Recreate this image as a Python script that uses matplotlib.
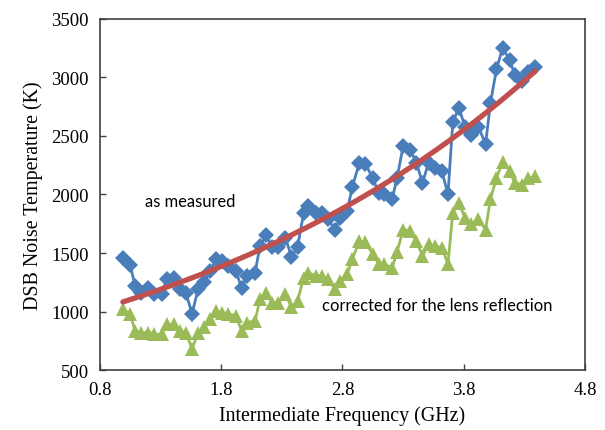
import numpy as np
import matplotlib
matplotlib.use("Agg")
import matplotlib.pyplot as plt

# IF frequency (GHz)
freq = [0.99, 1.05, 1.09, 1.14, 1.20, 1.25, 1.31, 1.35, 1.41, 1.46,
        1.51, 1.56, 1.61, 1.66, 1.71, 1.76, 1.81, 1.86, 1.92, 1.97,
        2.01, 2.08, 2.12, 2.17, 2.22, 2.27, 2.33, 2.38, 2.43, 2.48,
        2.52, 2.58, 2.63, 2.68, 2.74, 2.78, 2.84, 2.88, 2.94, 2.99,
        3.05, 3.10, 3.14, 3.21, 3.25, 3.30, 3.36, 3.41, 3.46, 3.51,
        3.56, 3.62, 3.67, 3.71, 3.76, 3.81, 3.86, 3.92, 3.98, 4.02,
        4.07, 4.12, 4.18, 4.22, 4.28, 4.33, 4.39]

# DSB noise temperature (K), as measured
t_measured = [1460, 1400, 1220, 1160, 1200, 1150, 1150, 1275, 1290, 1190,
              1160, 980, 1190, 1250, 1350, 1445, 1430, 1390, 1350, 1200,
              1300, 1330, 1560, 1650, 1550, 1550, 1630, 1470, 1550, 1840,
              1900, 1840, 1840, 1790, 1700, 1800, 1860, 2060, 2270, 2260,
              2140, 2010, 2000, 1960, 2140, 2410, 2380, 2270, 2100, 2270,
              2230, 2200, 2000, 2620, 2740, 2580, 2510, 2580, 2430, 2780,
              3070, 3250, 3150, 3020, 2970, 3050, 3090]

# corrected for the lens reflection
t_corrected = [1020, 980, 835, 820, 820, 805, 805, 890, 890, 835,
               820, 680, 820, 865, 935, 1005, 990, 980, 965, 835,
               905, 920, 1105, 1160, 1075, 1075, 1150, 1035, 1090, 1290,
               1330, 1305, 1305, 1275, 1190, 1260, 1320, 1445, 1600, 1590,
               1490, 1405, 1405, 1375, 1505, 1700, 1690, 1600, 1475, 1575,
               1560, 1545, 1405, 1845, 1930, 1800, 1745, 1790, 1700, 1960,
               2140, 2280, 2200, 2100, 2085, 2140, 2155]

x_ticks = [0.8, 1.8, 2.8, 3.8, 4.8]
y_ticks = [500, 1000, 1500, 2000, 2500, 3000, 3500]

# exponential trendline fitted to the measured data
x = np.array(freq)
coef = np.polyfit(x, np.log(t_measured), 1)
x_fit = np.linspace(x.min(), x.max(), 200)
y_fit = np.exp(np.polyval(coef, x_fit))

fig = plt.figure(figsize=(6.05, 4.31), dpi=100)
ax = fig.add_axes([0.165, 0.139, 0.802, 0.815])

ax.plot(freq, t_measured, color='#4a7ebb', linewidth=2, marker='D',
        markersize=8.5, markeredgewidth=0, zorder=3)
ax.plot(freq, t_corrected, color='#9bbb59', linewidth=2, marker='^',
        markersize=10.5, markeredgewidth=0, zorder=3)
ax.plot(x_fit, y_fit, color='#c0504d', linewidth=3.8,
        solid_capstyle='round', zorder=4)

ax.text(1.17, 1943, 'as measured', fontsize=11.9, family='Lato',
        va='center', ha='left')
ax.text(2.63, 1054, 'corrected for the lens reflection', fontsize=11.9,
        family='Lato', va='center', ha='left')

ax.set_xlim(0.8, 4.8)
ax.set_ylim(500, 3500)
ax.set_xticks(x_ticks)
ax.set_xticklabels([f'{v:.1f}' for v in x_ticks])
ax.set_yticks(y_ticks)
ax.tick_params(direction='in', length=4, width=1, labelsize=13.5, pad=8,
               color='#404040')
for lab in ax.get_xticklabels() + ax.get_yticklabels():
    lab.set_family('Liberation Serif')

for s in ax.spines.values():
    s.set_linewidth(1.2)
    s.set_color('#404040')

ax.set_xlabel('Intermediate Frequency (GHz)', fontsize=14.4,
              family='Liberation Serif', labelpad=5)
ax.set_ylabel('DSB Noise Temperature (K)', fontsize=14.4,
              family='Liberation Serif', labelpad=6)

fig.savefig('out.png', dpi=100)
